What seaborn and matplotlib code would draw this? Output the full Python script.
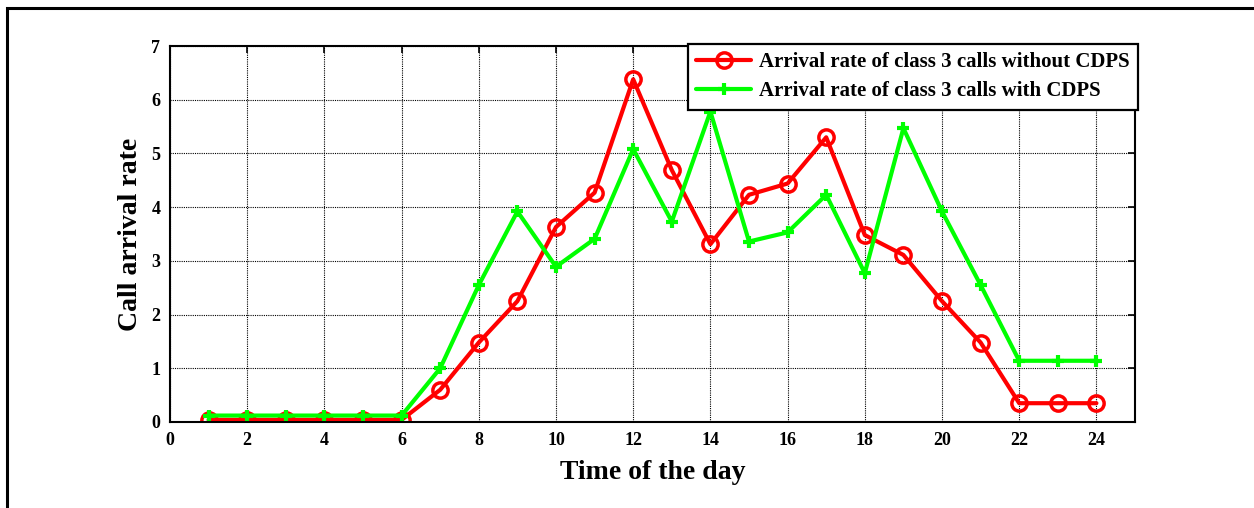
import numpy as np
import pandas as pd
import matplotlib
matplotlib.use("Agg")
import matplotlib.pyplot as plt
import seaborn as sns
from matplotlib.patches import Rectangle

horas = list(range(1, 25))
sin_cdps = [0.04, 0.04, 0.04, 0.04, 0.04, 0.04, 0.6, 1.48, 2.25, 3.63, 4.27, 6.38,
            4.69, 3.31, 4.23, 4.44, 5.30, 3.48, 3.11, 2.25, 1.48, 0.35, 0.35, 0.35]
con_cdps = [0.12, 0.12, 0.12, 0.12, 0.12, 0.12, 1.0, 2.55, 3.92, 2.89, 3.41, 5.08,
            3.73, 5.78, 3.36, 3.53, 4.23, 2.77, 5.47, 3.92, 2.55, 1.14, 1.14, 1.14]
etiquetas = ["Arrival rate of class 3 calls without CDPS",
             "Arrival rate of class 3 calls with CDPS"]

sns.set_style("white")
plt.rcParams["font.family"] = ["Liberation Serif", "DejaVu Serif"]
plt.rcParams["font.weight"] = "bold"
plt.rcParams["text.color"] = "black"
plt.rcParams["axes.labelcolor"] = "black"
plt.rcParams["xtick.color"] = "black"
plt.rcParams["ytick.color"] = "black"

df = pd.DataFrame({"hora": horas, "sin": sin_cdps, "con": con_cdps})

fig = plt.figure(figsize=(12.54, 5.08), dpi=100)
ax = fig.add_axes([170 / 1254, 86 / 508, 965 / 1254, 376 / 508])

sns.lineplot(data=df, x="hora", y="sin", ax=ax, color="#ff0000", lw=3,
             marker="o", markersize=11, markerfacecolor="none",
             markeredgecolor="#ff0000", markeredgewidth=2.5, label=etiquetas[0])
sns.lineplot(data=df, x="hora", y="con", ax=ax, color="#00ff00", lw=3,
             marker="+", markersize=9, markeredgecolor="#00ff00",
             markeredgewidth=3, label=etiquetas[1])

ax.set_xlim(0, 25)
ax.set_ylim(0, 7)
ax.set_xticks(np.arange(0, 25, 2))
ax.set_yticks(np.arange(0, 8, 1))
ax.grid(True, color="black", linestyle=(0, (1, 1)), linewidth=0.8)
ax.tick_params(direction="in", top=True, right=True, length=5, width=1.2,
               labelsize=13, pad=7)
for lab in ax.get_xticklabels() + ax.get_yticklabels():
    lab.set_fontweight("bold")
for s in ax.spines.values():
    s.set_linewidth(1.5)
    s.set_color("black")

ax.set_xlabel("Time of the day", fontsize=20, fontweight="bold", labelpad=8)
ax.set_ylabel("Call arrival rate", fontsize=20, fontweight="bold", labelpad=6)

leg = ax.legend(loc="upper right", bbox_to_anchor=(1.003, 1.006), fontsize=15,
                frameon=True, fancybox=False, framealpha=1, edgecolor="black",
                borderpad=0.4, handlelength=2.6, handletextpad=0.4,
                labelspacing=0.45, borderaxespad=0)
leg.get_frame().set_linewidth(1.6)
for t in leg.get_texts():
    t.set_fontweight("bold")

# marco exterior
fig.add_artist(Rectangle((7 / 1254, -0.1), 1.2, (508 - 8.5) / 508 + 0.1,
                         transform=fig.transFigure, fill=False,
                         edgecolor="black", linewidth=2.2))

fig.savefig("out.png", dpi=100)
